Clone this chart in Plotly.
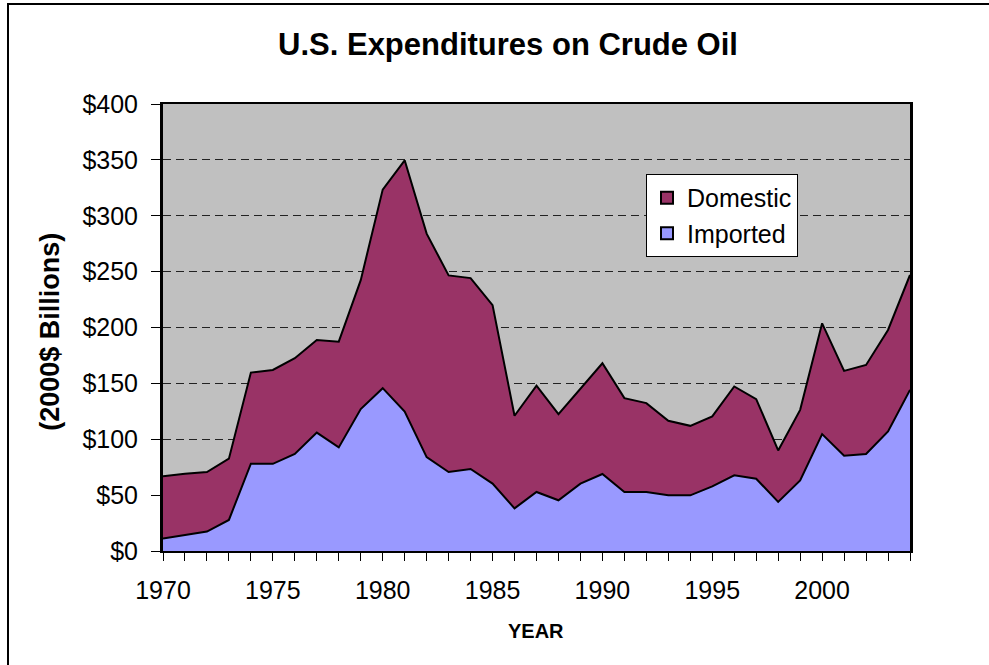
import plotly.graph_objects as go

years = list(range(1970, 2005))
imported = [11.2, 14.5, 17.4, 27.8, 78.1, 78.0, 86.8, 106.0, 92.7, 127.0,
            145.7, 124.8, 84.0, 70.7, 73.4, 60.3, 38.2, 52.8, 45.4, 60.3,
            68.9, 52.8, 52.8, 49.8, 49.8, 57.9, 67.7, 64.7, 43.9, 63.2,
            104.6, 85.3, 86.8, 107.0, 144.2]
domestic = [55.6, 54.7, 53.3, 54.8, 81.6, 84.0, 85.7, 82.8, 94.6, 115.4,
            177.7, 224.8, 200.0, 175.9, 170.8, 159.7, 82.8, 95.2, 77.1, 84.7,
            99.1, 84.0, 79.5, 66.7, 62.2, 62.5, 79.5, 71.2, 46.1, 63.1,
            99.1, 75.9, 79.7, 90.8, 102.8]
tick_labels = [str(y) if y % 5 == 0 else "" for y in years]
y_ticks = [0, 50, 100, 150, 200, 250, 300, 350, 400]
y_tick_labels = ["$" + str(v) for v in y_ticks]

FONT = "Arial, Liberation Sans, sans-serif"
C_DOM = "#993366"
C_IMP = "#9999FF"

fig = go.Figure()
fig.add_trace(go.Scatter(
    x=years, y=imported, name="Imported", stackgroup="one", mode="lines",
    line=dict(color="black", width=2), fillcolor=C_IMP, showlegend=False,
))
fig.add_trace(go.Scatter(
    x=years, y=domestic, name="Domestic", stackgroup="one", mode="lines",
    line=dict(color="black", width=2), fillcolor=C_DOM, showlegend=False,
))
# legend swatches (square keys as in the original)
fig.add_trace(go.Bar(x=[None], y=[None], name="Domestic",
                     marker=dict(color=C_DOM, line=dict(color="black", width=1))))
fig.add_trace(go.Bar(x=[None], y=[None], name="Imported",
                     marker=dict(color=C_IMP, line=dict(color="black", width=1))))

W, H = 989, 665
L, R, T, B = 163, 910, 104, 551.5

fig.update_layout(
    width=W, height=H,
    margin=dict(l=L, r=W - R, t=T, b=H - B, pad=0),
    paper_bgcolor="white", plot_bgcolor="#C0C0C0",
    font=dict(family=FONT, size=25, color="black"),
    title=dict(text="<b>U.S. Expenditures on Crude Oil</b>", x=508 / W, xanchor="center",
               y=1 - 44 / H, yanchor="middle", yref="container",
               font=dict(size=31, family=FONT, color="black")),
    showlegend=True,
    legend=dict(x=(646 - L) / (R - L), y=(B - 174) / (B - T), xanchor="left", yanchor="top",
                bgcolor="white", bordercolor="black", borderwidth=1,
                traceorder="normal", font=dict(size=25, family=FONT),
                itemsizing="constant"),
    xaxis=dict(range=[1970, 2004], tickvals=years, ticktext=tick_labels,
               ticks="outside", ticklen=8, tickcolor="black", tickwidth=1,
               showgrid=False, zeroline=False, showline=True, linecolor="black",
               linewidth=2, mirror=True, ticklabelstandoff=8,
               tickfont=dict(size=25, family=FONT)),
    yaxis=dict(range=[0, 400], tickvals=y_ticks, ticktext=y_tick_labels,
               ticks="outside", ticklen=9, tickcolor="black", tickwidth=1,
               showgrid=True, gridcolor="#222222", gridwidth=1, griddash="8px,5px",
               zeroline=False, showline=True, linecolor="black", linewidth=3,
               mirror=True, ticklabelstandoff=8,
               tickfont=dict(size=25, family=FONT)),
)

fig.add_annotation(text="<b>(2000$ Billions)</b>", xref="paper", yref="paper",
                   x=(50 - L) / (R - L), y=(B - 332) / (B - T), textangle=-90,
                   showarrow=False, xanchor="center", yanchor="middle",
                   font=dict(size=27, family=FONT, color="black"))
fig.add_annotation(text="<b>YEAR</b>", xref="paper", yref="paper",
                   x=(536 - L) / (R - L), y=(B - 632) / (B - T),
                   showarrow=False, xanchor="center", yanchor="middle",
                   font=dict(size=20, family=FONT, color="black"))

# outer chart frame (left and top edges visible)
fig.add_shape(type="rect", xref="paper", yref="paper",
              x0=(8 - L) / (R - L), x1=(1010 - L) / (R - L),
              y0=(B - 690) / (B - T), y1=(B - 4) / (B - T),
              line=dict(color="black", width=2), fillcolor="rgba(0,0,0,0)", layer="below")

fig.write_html("out.html", config={"displayModeBar": False},
               post_script="document.body.style.margin='0';document.body.style.overflow='hidden';")
